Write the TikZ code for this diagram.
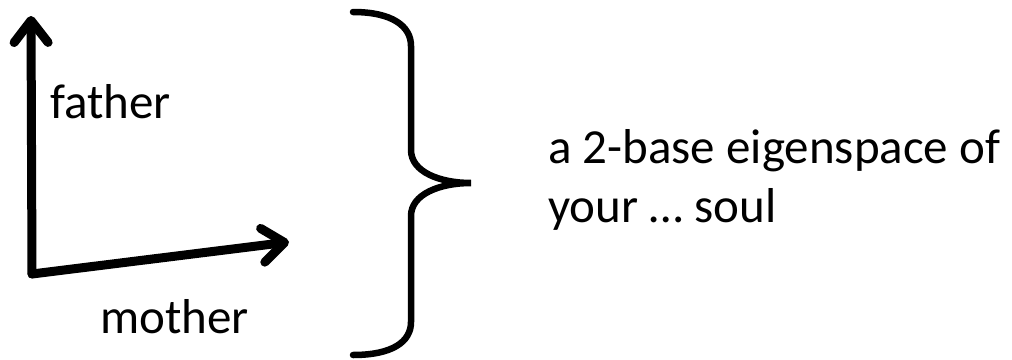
\documentclass[tikz,border=0pt]{standalone}
\usepackage{fontspec}
\setmainfont{Carlito}
\usetikzlibrary{arrows.meta}
\tikzset{
  axis/.style={line width=9pt, line cap=round, line join=round,
    -{Straight Barb[length=22pt,width=34pt,line width=9pt,round]}},
  lbl/.style={anchor=base west, inner sep=0pt, font=\fontsize{49}{59}\selectfont},
}
\begin{document}
\begin{tikzpicture}[x=1pt,y=-1pt]
\useasboundingbox (0,0) rectangle (1012,359);
% the two axes
\coordinate (o) at (32,274);
\coordinate (up) at (31,16);
\coordinate (rt) at (289,242);
\draw[axis] (o) -- (up);
\draw[axis] (o) -- (rt);
\node (fa)[lbl] at (50,118) {father};
\node (mo)[lbl] at (100,333) {mother};

% brace
\draw[line width=6.5pt, line cap=round] (353,12) .. controls (392,12) and (411,26) .. (411,46)
  -- (411,150) .. controls (411,172) and (440,183) .. (471,183)
  .. controls (440,183) and (411,194) .. (411,216)
  -- (411,322) .. controls (411,342) and (392,355) .. (353,355);

\node (l1)[lbl] at (548,163) {a 2-base eigenspace of};
\node (l2)[lbl] at (548,222) {your … soul};
\end{tikzpicture}
\end{document}
